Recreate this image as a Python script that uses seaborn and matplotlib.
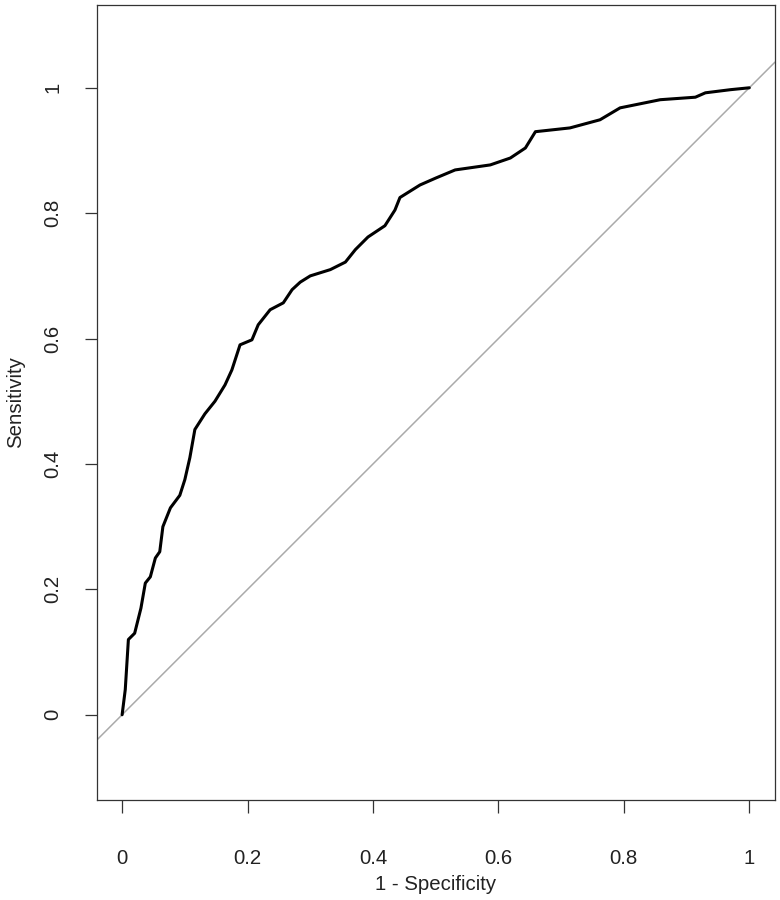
import pandas as pd
import matplotlib
matplotlib.use("Agg")
import matplotlib.pyplot as plt
import seaborn as sns

# ROC curve points (1 - specificity, sensitivity)
fpr = [0.0, 0.005, 0.01, 0.02, 0.03, 0.037, 0.045, 0.053, 0.06, 0.065, 0.077,
       0.092, 0.10, 0.108, 0.116, 0.132, 0.148, 0.164, 0.175, 0.188, 0.207,
       0.217, 0.236, 0.257, 0.271, 0.284, 0.30, 0.332, 0.356, 0.372, 0.392,
       0.419, 0.435, 0.443, 0.475, 0.50, 0.531, 0.587, 0.619, 0.643, 0.659,
       0.714, 0.762, 0.794, 0.858, 0.914, 0.93, 0.97, 1.0]
tpr = [0.0, 0.04, 0.12, 0.13, 0.17, 0.21, 0.22, 0.25, 0.26, 0.30, 0.33,
       0.35, 0.375, 0.41, 0.455, 0.48, 0.50, 0.526, 0.55, 0.59, 0.598,
       0.622, 0.646, 0.657, 0.678, 0.69, 0.70, 0.71, 0.722, 0.742, 0.762,
       0.78, 0.805, 0.825, 0.845, 0.856, 0.869, 0.877, 0.888, 0.904, 0.93,
       0.936, 0.949, 0.968, 0.981, 0.985, 0.992, 0.997, 1.0]
ticks = [0, 0.2, 0.4, 0.6, 0.8, 1]
tick_labels = ["0", "0.2", "0.4", "0.6", "0.8", "1"]

df = pd.DataFrame({"fpr": fpr, "tpr": tpr})

sns.set_style("ticks")
plt.rcParams["font.family"] = ["Liberation Sans", "DejaVu Sans"]

fig = plt.figure(figsize=(7.8, 9), dpi=100)
ax = fig.add_axes([0.1244, 0.1111, 0.8692, 0.8833])

# diagonal reference line
ax.axline((0, 0), (1, 1), color="#aaaaaa", lw=1.1, zorder=1)

sns.lineplot(data=df, x="fpr", y="tpr", sort=False, estimator=None,
             color="black", lw=2.2, ax=ax, zorder=2)

ax.set_xlim(-0.04, 1.041)
ax.set_ylim(-0.136, 1.132)
ax.set_xticks(ticks)
ax.set_xticklabels(tick_labels)
ax.set_yticks(ticks)
ax.set_yticklabels(tick_labels, rotation=90, va="center")
ax.tick_params(axis="both", labelsize=14.7, length=9, width=0.9,
               color="#333333", labelcolor="#222222")
ax.tick_params(axis="x", pad=26)
ax.tick_params(axis="y", pad=16)
ax.set_xlabel("1 - Specificity", fontsize=14.7, color="#222222", labelpad=5)
ax.set_ylabel("Sensitivity", fontsize=14.7, color="#222222", labelpad=13)
for s in ax.spines.values():
    s.set_visible(True)
    s.set_color("#333333")
    s.set_linewidth(0.9)

fig.savefig("out.png", dpi=100)
